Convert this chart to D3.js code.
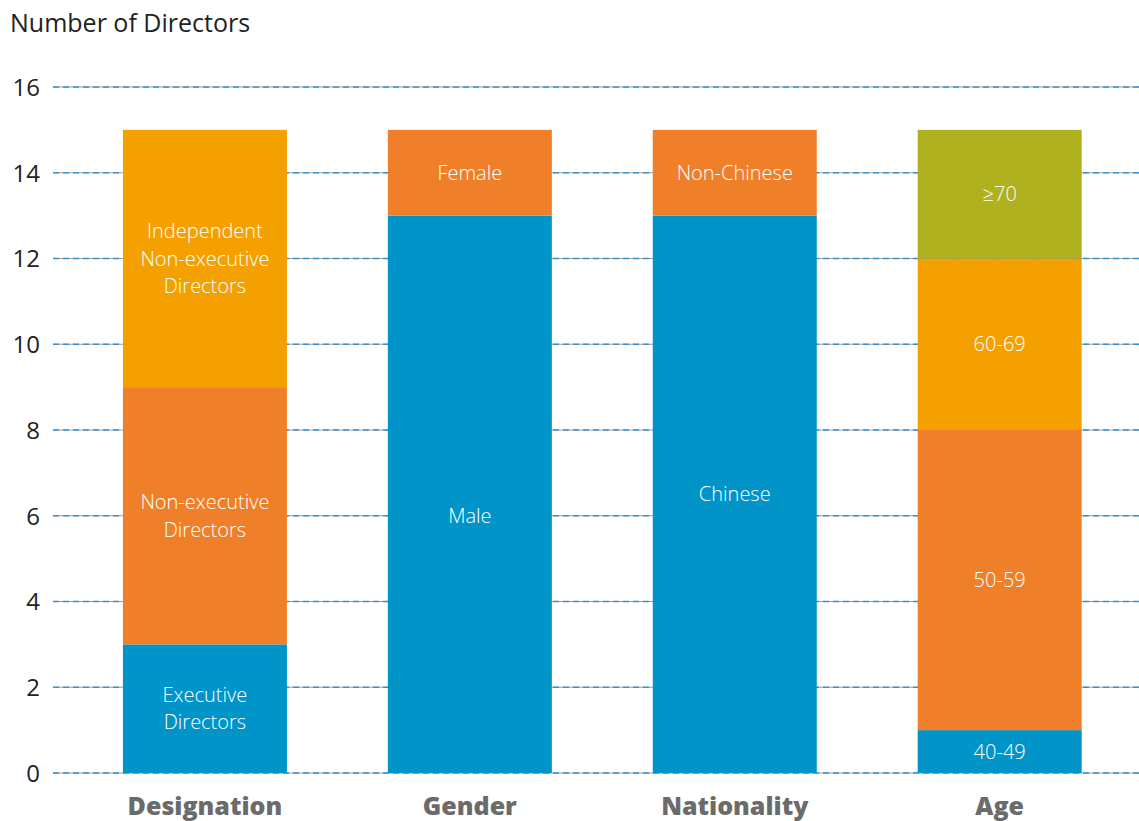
<!DOCTYPE html>
<html><head><meta charset="utf-8">
<script src="https://cdn.jsdelivr.net/npm/d3@7"></script>
<style>
body{margin:0;background:#fff;}
text{font-family:"Open Sans","Noto Sans",sans-serif;}
</style></head>
<body><svg id="c" width="1139" height="821"></svg>
<script>
const categories = ["Designation","Gender","Nationality","Age"];
const designationLabels = ["Executive\nDirectors","Non-executive\nDirectors","Independent\nNon-executive\nDirectors"];
const designationValues = [3,6,6];
const genderLabels = ["Male","Female"];
const genderValues = [13,2];
const nationalityLabels = ["Chinese","Non-Chinese"];
const nationalityValues = [13,2];
const ageLabels = ["40-49","50-59","60-69","≥70"];
const ageValues = [1,7,4,3];
const yTicks = [0,2,4,6,8,10,12,14,16];

const colors = {blue:"#0094c8", orange:"#ef7f29", amber:"#f4a000", olive:"#afb11e"};
const groups = [
  {cat:"Designation", labels:designationLabels, values:designationValues, colors:[colors.blue,colors.orange,colors.amber]},
  {cat:"Gender", labels:genderLabels, values:genderValues, colors:[colors.blue,colors.orange]},
  {cat:"Nationality", labels:nationalityLabels, values:nationalityValues, colors:[colors.blue,colors.orange]},
  {cat:"Age", labels:ageLabels, values:ageValues, colors:[colors.blue,colors.orange,colors.amber,colors.olive]}
];

const svg = d3.select("#c");
const y = d3.scaleLinear().domain([0,16]).range([773,87]);
const x = d3.scaleBand().domain(categories).range([72.6,1132]).paddingInner(0.381).paddingOuter(0.19);

// title
svg.append("text").attr("x",10).attr("y",32).attr("font-size",25).attr("fill","#222").text("Number of Directors");

// gridlines
const grid = svg.append("g");
yTicks.forEach(t=>{
  grid.append("line").attr("x1",53).attr("x2",1139).attr("y1",y(t)).attr("y2",y(t))
    .attr("stroke","#9a9a9a").attr("stroke-width",1);
  grid.append("line").attr("x1",53).attr("x2",1139).attr("y1",y(t)).attr("y2",y(t))
    .attr("stroke","#3a8fd0").attr("stroke-width",1.3).attr("stroke-dasharray","6,4");
});
// y axis labels
const yAxis = d3.axisLeft(y).tickValues(yTicks).tickSize(0).tickPadding(0);
const ya = svg.append("g").attr("transform","translate(40,0)").call(yAxis);
ya.select(".domain").remove();
ya.selectAll("text").attr("font-size",24).attr("fill","#222").attr("font-family","'Open Sans',sans-serif").attr("dy","0.35em");

// bars
groups.forEach(g=>{
  let cum = 0;
  const bx = x(g.cat), bw = x.bandwidth();
  g.values.forEach((v,i)=>{
    const y0 = cum, y1 = cum+v; cum = y1;
    svg.append("rect").attr("x",bx).attr("width",bw).attr("y",y(y1)).attr("height",y(y0)-y(y1)).attr("fill",g.colors[i]);
    const lines = g.labels[i].split("\n");
    let cy = (y(y0)+y(y1))/2;
    if(g.cat==="Gender" && i===0) cy += 22;
    const lh = 27.5;
    const t = svg.append("text").attr("x",bx+bw/2).attr("text-anchor","middle")
      .attr("font-size",20).attr("font-weight",300).attr("fill","#fff");
    lines.forEach((l,k)=>{
      t.append("tspan").attr("x",bx+bw/2).attr("y",cy+(k-(lines.length-1)/2)*lh).attr("dy","0.35em").text(l);
    });
  });
});

// category axis
const xa = svg.append("g").attr("transform","translate(0,773)").call(d3.axisBottom(x).tickSize(0).tickPadding(0));
xa.select(".domain").remove();
xa.selectAll("text").attr("y",33).attr("dy","0.35em").attr("font-size",25).attr("font-weight",800)
  .attr("fill","#6b6b6b").attr("font-family","'Open Sans',sans-serif");
</script></body></html>
